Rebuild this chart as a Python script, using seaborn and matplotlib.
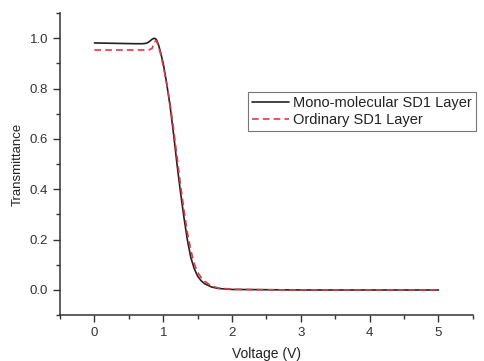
import numpy as np
import pandas as pd
import matplotlib
matplotlib.use('Agg')
import matplotlib.pyplot as plt
from matplotlib.ticker import MultipleLocator
import seaborn as sns

# values
voltage = [0, 0.2, 0.4, 0.6, 0.7, 0.76, 0.8, 0.84, 0.87, 0.9, 0.93, 0.96, 1.0,
           1.05, 1.1, 1.15, 1.2, 1.25, 1.3, 1.35, 1.4, 1.45, 1.5, 1.55, 1.6,
           1.7, 1.8, 2.0, 2.5, 3.0, 3.5, 4.0, 4.5, 5.0]
mono = [0.981, 0.980, 0.979, 0.978, 0.978, 0.980, 0.987, 0.996, 1.0, 0.995,
        0.975, 0.945, 0.90, 0.82, 0.73, 0.62, 0.50, 0.39, 0.29, 0.20, 0.13,
        0.085, 0.055, 0.037, 0.025, 0.012, 0.006, 0.002, 0.001, 0.0, 0.0,
        0.0, 0.0, 0.0]
ordinary = [0.953, 0.953, 0.953, 0.953, 0.953, 0.953, 0.954, 0.960, 0.985,
            0.99, 0.97, 0.94, 0.89, 0.82, 0.74, 0.64, 0.53, 0.42, 0.32, 0.23,
            0.16, 0.105, 0.07, 0.05, 0.035, 0.016, 0.008, 0.003, 0.001, 0.0,
            0.0, 0.0, 0.0, 0.0]
labels = ['Mono-molecular SD1 Layer', 'Ordinary SD1 Layer']

df = pd.concat([
    pd.DataFrame({'Voltage': voltage, 'T': mono, 'Layer': labels[0]}),
    pd.DataFrame({'Voltage': voltage, 'T': ordinary, 'Layer': labels[1]}),
])

sns.set_style('ticks')
plt.rcParams['font.family'] = ['Liberation Sans', 'DejaVu Sans']

fig = plt.figure(figsize=(4.84, 3.61), dpi=100)
ax = fig.add_axes([0.124, 0.127, 0.853, 0.837])

sns.lineplot(data=df, x='Voltage', y='T', hue='Layer', style='Layer',
             palette=['#222222', '#e0384a'],
             dashes=[(None, None), (4, 2.5)], linewidth=1.2, ax=ax,
             sort=False)

ax.set_xlim(-0.5, 5.5)
ax.set_ylim(-0.1, 1.1)
ax.xaxis.set_major_locator(MultipleLocator(1))
ax.xaxis.set_minor_locator(MultipleLocator(0.5))
ax.yaxis.set_major_locator(MultipleLocator(0.2))
ax.yaxis.set_minor_locator(MultipleLocator(0.1))
ax.yaxis.set_major_formatter(matplotlib.ticker.FormatStrFormatter('%.1f'))
ax.tick_params(which='major', length=5, width=1, colors='#333333',
               labelsize=9.5, labelcolor='#333333')
ax.tick_params(which='minor', length=3, width=1, colors='#333333')
for s in ['top', 'right']:
    ax.spines[s].set_visible(False)
for s in ['left', 'bottom']:
    ax.spines[s].set_color('#333333')
    ax.spines[s].set_linewidth(1.1)

ax.set_xlabel('Voltage (V)', fontsize=10, color='#222222', labelpad=6)
ax.set_ylabel('Transmittance', fontsize=9.5, color='#222222')

leg = ax.legend(loc='upper left', bbox_to_anchor=(0.512, 0.745),
                bbox_transform=fig.transFigure, fontsize=10.5,
                frameon=True, fancybox=False, handlelength=2.5,
                handletextpad=0.3, borderpad=0.3, labelspacing=0.15,
                borderaxespad=0)
leg.get_frame().set_edgecolor('#555555')
leg.get_frame().set_linewidth(0.8)
for t in leg.get_texts():
    t.set_color('#222222')

fig.savefig('out.png', dpi=100)
